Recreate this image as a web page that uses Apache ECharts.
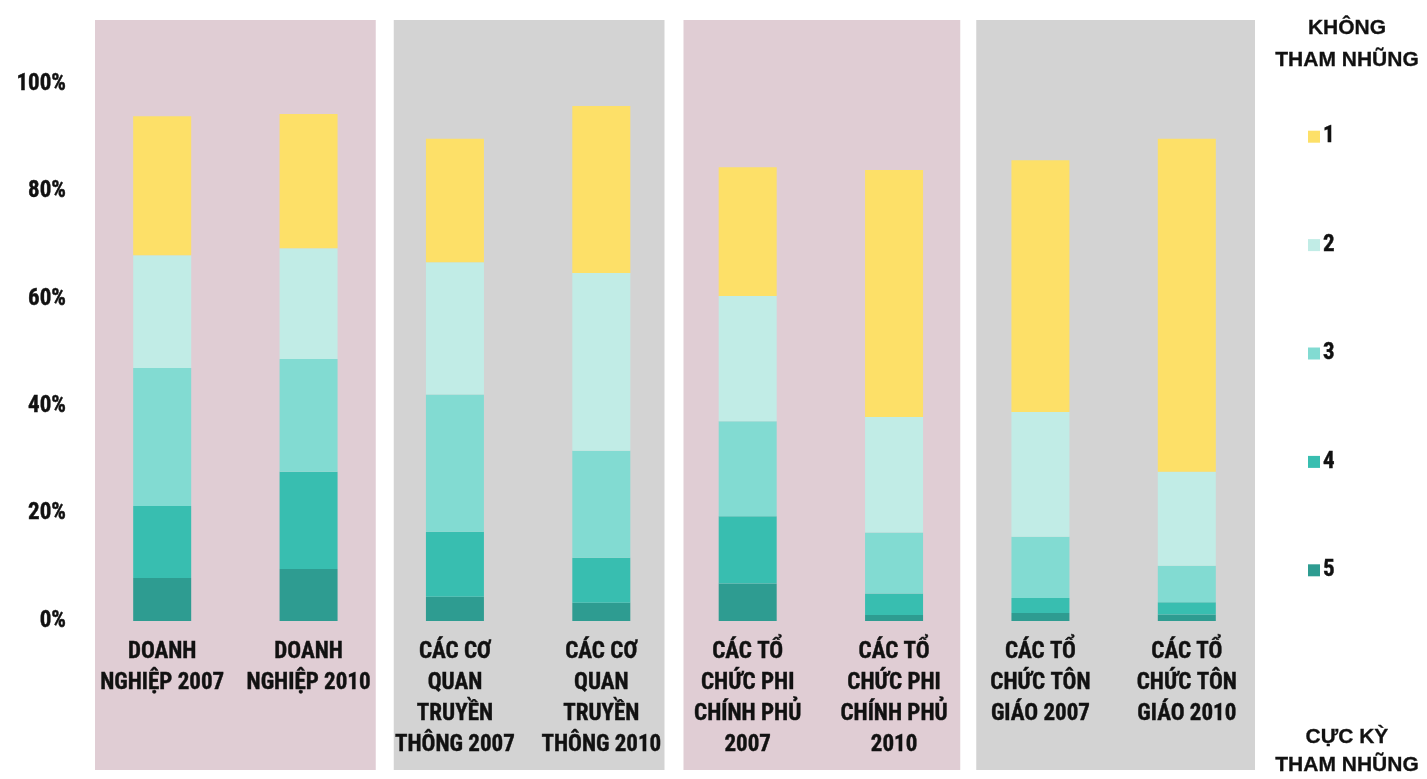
<!DOCTYPE html>
<html>
<head>
<meta charset="utf-8">
<script src="https://cdn.jsdelivr.net/npm/echarts@6/dist/echarts.min.js"></script>
<style>
  html, body { margin: 0; padding: 0; background: #ffffff; }
  #chart { width: 1427px; height: 779px; }
</style>
</head>
<body>
<div id="chart"></div>
<script>
// Categories (two survey years per sector)
const categories = [
  'DOANH\nNGHIỆP 2007', 'DOANH\nNGHIỆP 2010',
  'CÁC CƠ\nQUAN\nTRUYỀN\nTHÔNG 2007', 'CÁC CƠ\nQUAN\nTRUYỀN\nTHÔNG 2010',
  'CÁC TỔ\nCHỨC PHI\nCHÍNH PHỦ\n2007', 'CÁC TỔ\nCHỨC PHI\nCHÍNH PHỦ\n2010',
  'CÁC TỔ\nCHỨC TÔN\nGIÁO 2007', 'CÁC TỔ\nCHỨC TÔN\nGIÁO 2010'
];

// Share of respondents (%) per rating, 1 = not corrupt ... 5 = extremely corrupt
const rating1 = [25.9, 25.0, 23.0, 31.1, 24.0, 46.0, 46.9, 62.0];
const rating2 = [21.0, 20.6, 24.6, 33.1, 23.3, 21.5, 23.2, 17.5];
const rating3 = [25.7, 21.0, 25.6, 19.9, 17.7, 11.4, 11.4, 6.8];
const rating4 = [13.4, 18.1, 12.1, 8.4, 12.5, 4.0, 2.8, 2.3];
const rating5 = [8.0, 9.7, 4.5, 3.4, 7.0, 1.1, 1.5, 1.2];

const ratingNames = ['1', '2', '3', '4', '5'];
const yTicks = [0, 20, 40, 60, 80, 100];

// Sector groups: first/last category index of each shaded panel, and its shade
const panelGroups = [[0, 1, 0], [2, 3, 1], [4, 5, 0], [6, 7, 1]];

const colors = {
  '1': '#FDE068',
  '2': '#C1ECE6',
  '3': '#82DBD2',
  '4': '#38BEB0',
  '5': '#2E9C91'
};
const panelColors = ['#E0CDD4', '#D3D3D3'];
// Gaps between panels and band edges (left, right) for each panel
const panelInsets = [[6, 6], [12, 10], [9, 7], [9, 5]];
const FONT = '"Liberation Sans Narrow", "Arial Narrow", "Roboto Condensed", sans-serif';
const SCALE_FONT = '"Liberation Sans", Arial, sans-serif';
const TEXT = '#111111';

const chart = echarts.init(document.getElementById('chart'));

const seriesData = { '1': rating1, '2': rating2, '3': rating3, '4': rating4, '5': rating5 };

// Stacked from the bottom: 5 first, 1 on top
const barSeries = ['5', '4', '3', '2', '1'].map(function (name) {
  return {
    name: name,
    type: 'bar',
    stack: 'total',
    barWidth: 58,
    z: 3,
    itemStyle: { color: colors[name] },
    emphasis: { disabled: true },
    data: seriesData[name]
  };
});

const panelSeries = {
  type: 'custom',
  silent: true,
  clip: false,
  z: 0,
  encode: { x: [0, 1] },
  data: panelGroups,
  renderItem: function (params, api) {
    const band = api.size([1, 0])[0];
    const inset = panelInsets[params.dataIndex];
    const x0 = api.coord([api.value(0), 0])[0] - band / 2 + inset[0];
    const x1 = api.coord([api.value(1), 0])[0] + band / 2 - inset[1];
    const top = 20;
    const bottom = api.getHeight() - 9;
    return {
      type: 'rect',
      shape: { x: x0, y: top, width: x1 - x0, height: bottom - top },
      style: { fill: panelColors[api.value(2)] }
    };
  }
};

const labelText = {
  color: TEXT,
  fontFamily: FONT,
  fontWeight: 'bold',
  fontSize: 23,
  textBorderColor: TEXT,
  textBorderWidth: 0.4
};

function scaleEndText(text, y, lineHeight) {
  return {
    type: 'text',
    x: 1347,
    y: y,
    style: {
      text: text,
      align: 'center',
      fill: TEXT,
      stroke: TEXT,
      lineWidth: 0.3,
      font: 'bold 21px ' + SCALE_FONT,
      lineHeight: lineHeight
    }
  };
}

chart.setOption({
  animation: false,
  backgroundColor: '#ffffff',
  grid: { left: 89, right: 167, top: 84, bottom: 158 },
  xAxis: {
    type: 'category',
    data: categories,
    axisLine: { show: false },
    axisTick: { show: false },
    axisLabel: Object.assign({
      interval: 0,
      margin: 16,
      lineHeight: 31,
      align: 'center'
    }, labelText)
  },
  yAxis: {
    type: 'value',
    min: yTicks[0],
    max: yTicks[yTicks.length - 1],
    interval: 20,
    splitLine: { show: false },
    axisLine: { show: false },
    axisTick: { show: false },
    axisLabel: Object.assign({
      formatter: '{value}%',
      margin: 23
    }, labelText)
  },
  legend: {
    data: ratingNames,
    orient: 'vertical',
    left: 1303,
    top: 120,
    itemWidth: 12,
    itemHeight: 12,
    itemGap: 85,
    icon: 'rect',
    selectedMode: false,
    textStyle: Object.assign({ padding: [0, 0, 0, -2] }, labelText)
  },
  graphic: [
    scaleEndText('KHÔNG\nTHAM NHŨNG', 12, 32),
    scaleEndText('CỰC KỲ\nTHAM NHŨNG', 723, 28)
  ],
  series: [panelSeries].concat(barSeries)
});
</script>
</body>
</html>
